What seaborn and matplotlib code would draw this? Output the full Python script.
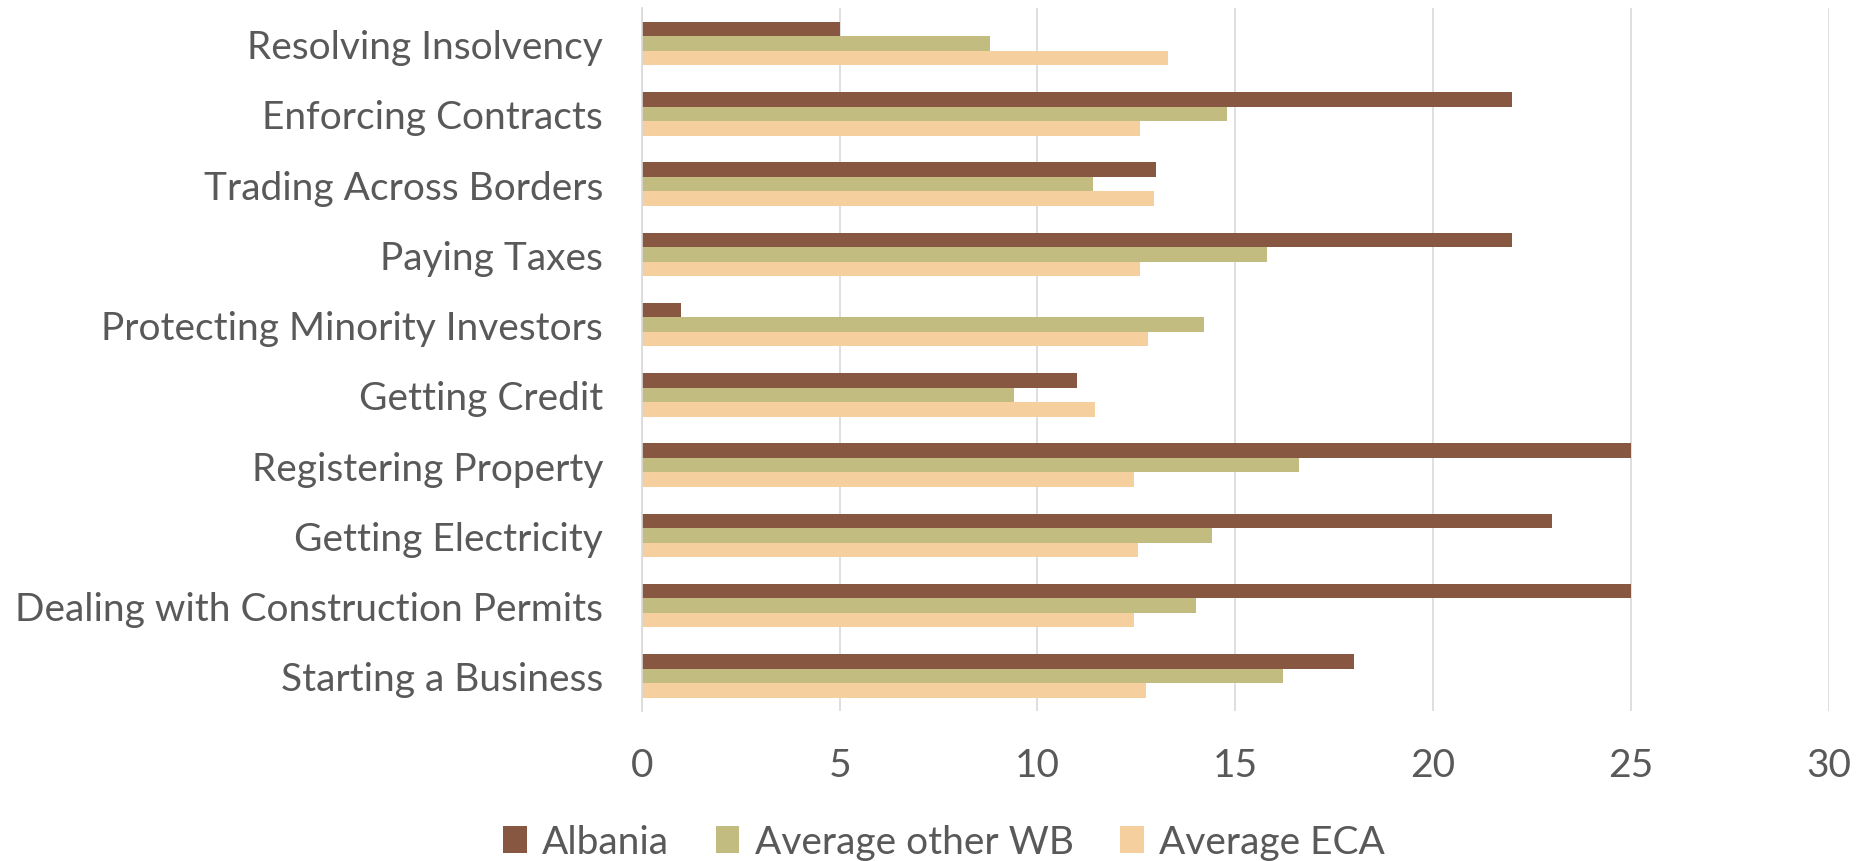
import matplotlib
matplotlib.use("Agg")
import matplotlib.pyplot as plt
import seaborn as sns
import pandas as pd

categories = ["Resolving Insolvency", "Enforcing Contracts", "Trading Across Borders",
              "Paying Taxes", "Protecting Minority Investors", "Getting Credit",
              "Registering Property", "Getting Electricity",
              "Dealing with Construction Permits", "Starting a Business"]
albania = [5, 22, 13, 22, 1, 11, 25, 23, 25, 18]
avg_wb = [8.8, 14.8, 11.4, 15.8, 14.2, 9.4, 16.6, 14.4, 14.0, 16.2]
avg_eca = [13.3, 12.6, 12.95, 12.6, 12.8, 11.45, 12.45, 12.55, 12.45, 12.75]
series = ["Albania", "Average other WB", "Average ECA"]
colors = ["#875742", "#C2BC80", "#F6CF9F"]
xticks = [0, 5, 10, 15, 20, 25, 30]

rows = []
for s, vals in zip(series, [albania, avg_wb, avg_eca]):
    for c, v in zip(categories, vals):
        rows.append({"cat": c, "series": s, "val": v})
df = pd.DataFrame(rows)

sns.set_theme(style="white")
plt.rcParams["font.family"] = ["Lato", "DejaVu Sans"]

fig = plt.figure(figsize=(18.66, 8.62), dpi=100)
ax = fig.add_axes([0.344, 0.174, 0.636, 0.815])
sns.barplot(data=df, y="cat", x="val", hue="series", order=categories,
            hue_order=series, palette=colors, orient="h", width=0.62,
            saturation=1, linewidth=0, ax=ax, legend=True)

ax.set_xlim(0, 30)
ax.set_xticks(xticks)
ax.set_xticklabels([str(t) for t in xticks])
ax.set_ylim(len(categories) - 0.5, -0.5)
ax.set_xlabel("")
ax.set_ylabel("")
ax.xaxis.grid(True, color="#D9D9D9", linewidth=1.2)
ax.set_axisbelow(True)
for sp in ["top", "right", "bottom"]:
    ax.spines[sp].set_visible(False)
ax.spines["left"].set_color("#D9D9D9")
ax.spines["left"].set_linewidth(1.2)
ax.tick_params(axis="both", length=0, labelsize=28, labelcolor="#595959")
ax.tick_params(axis="x", pad=26)
ax.tick_params(axis="y", pad=28)

handles, labels = ax.get_legend_handles_labels()
ax.get_legend().remove()
fig.legend(handles, labels, loc="lower center", bbox_to_anchor=(0.506, -0.04),
           ncol=3, frameon=False, fontsize=28, labelcolor="#595959",
           handlelength=0.6, handleheight=0.7, columnspacing=1.2, handletextpad=0.4)

fig.savefig("out.png", dpi=100)
